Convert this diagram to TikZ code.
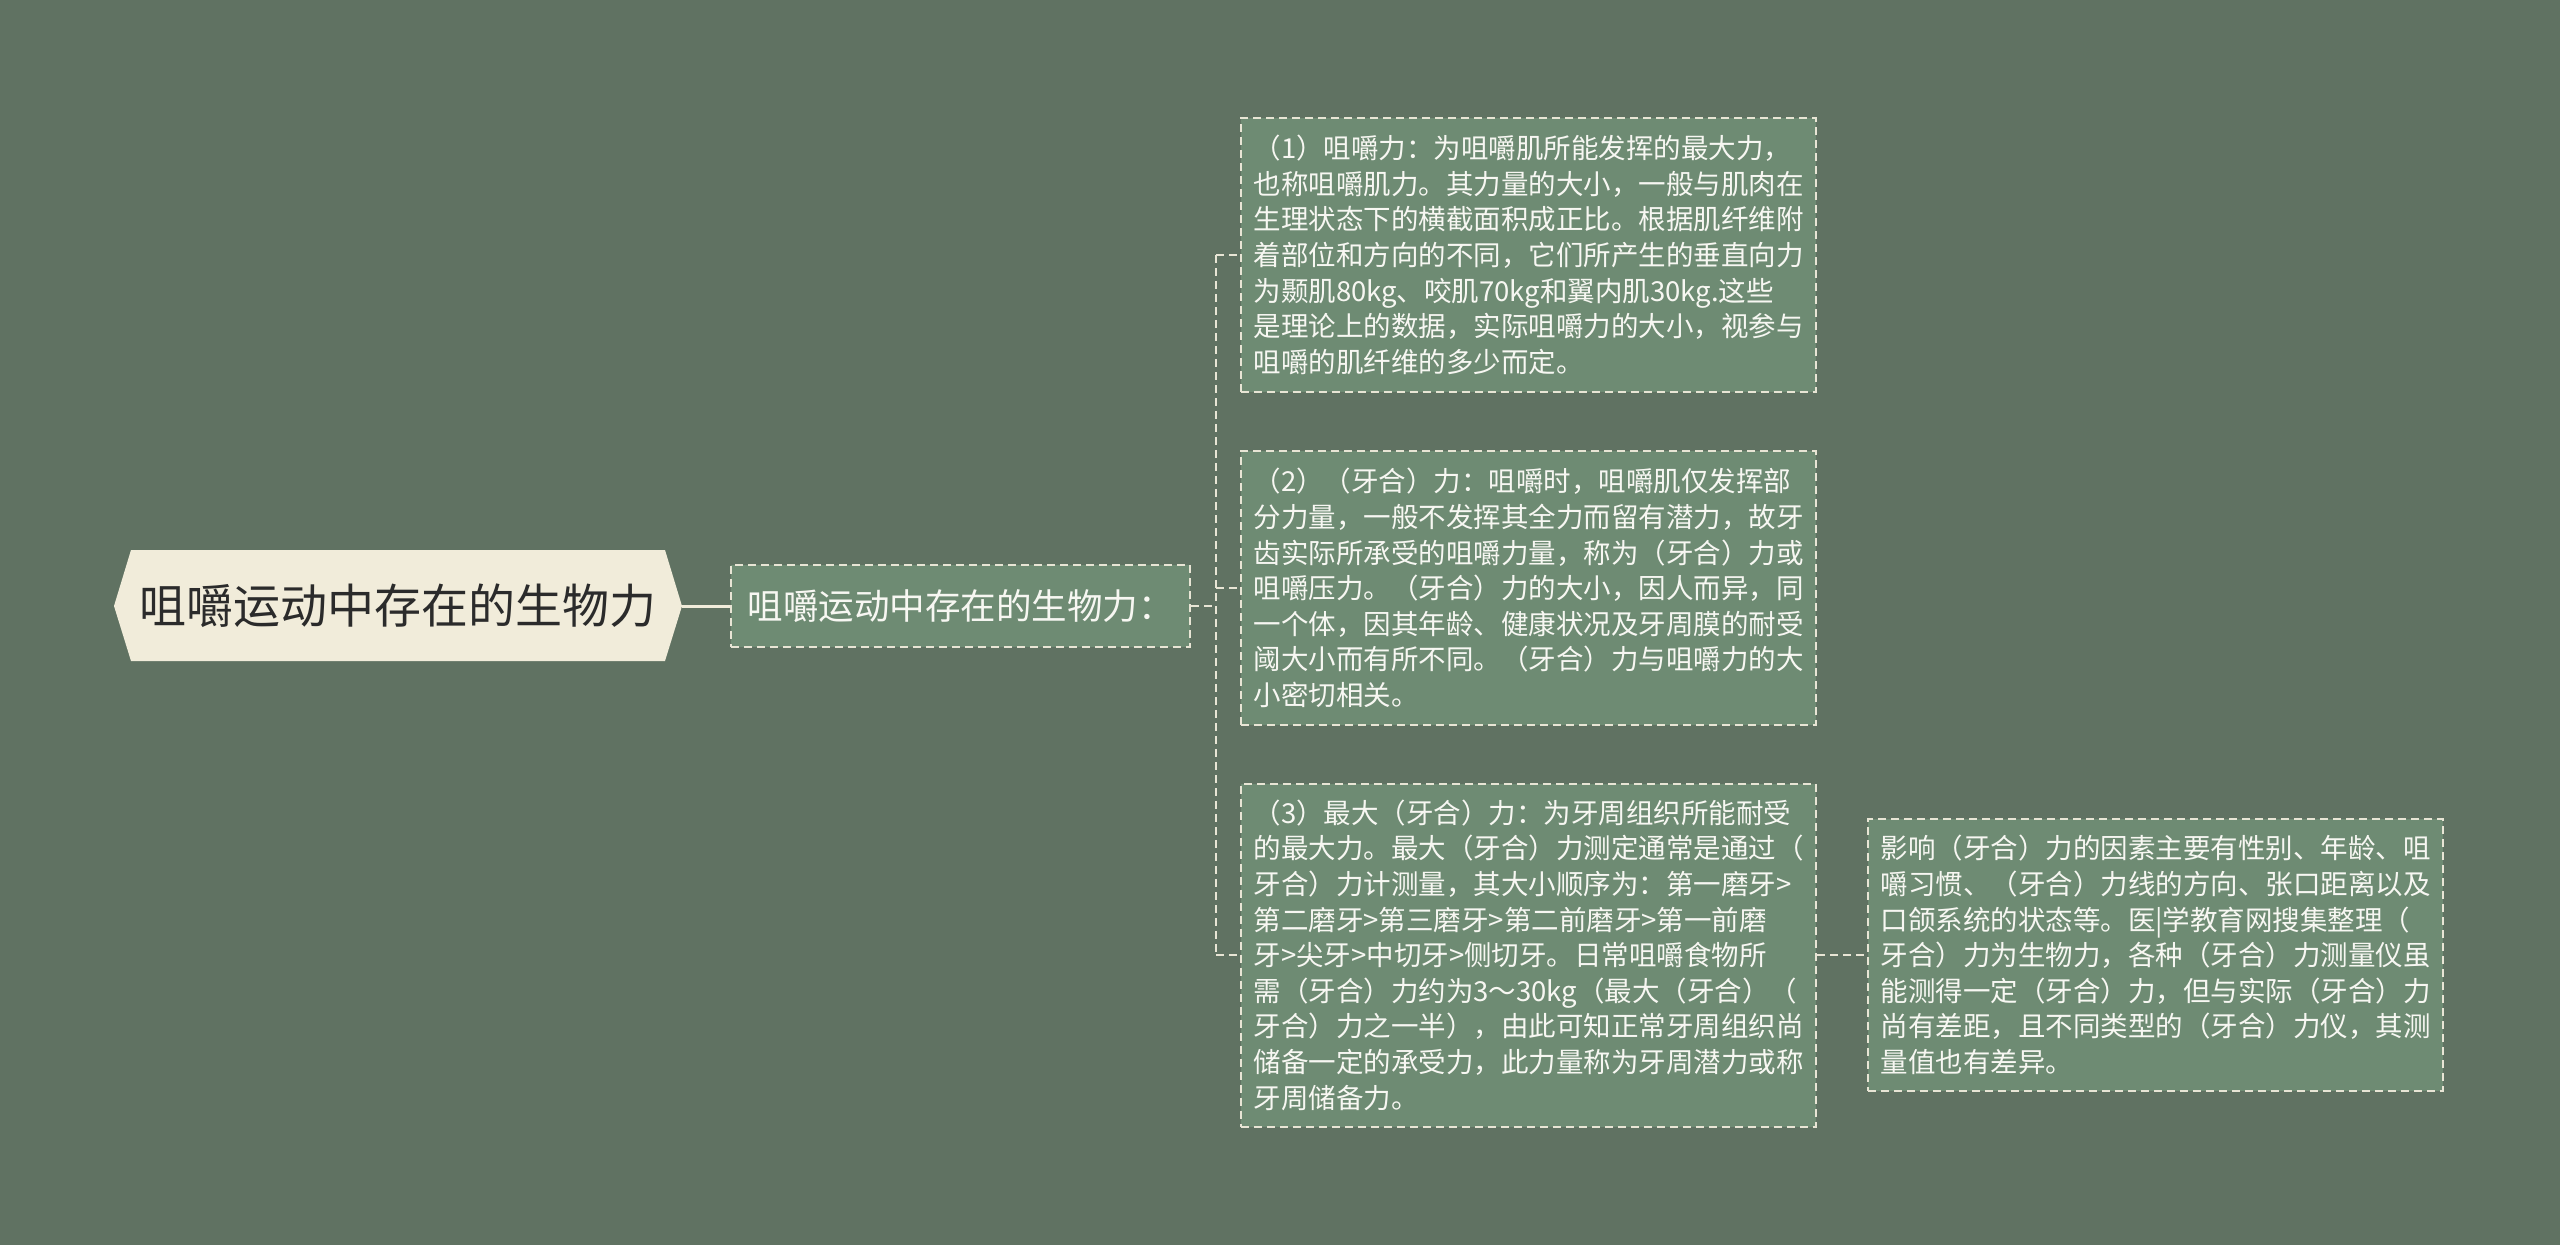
\documentclass[tikz,border=0pt]{standalone}
\usepackage{fontspec}
\setmainfont{Noto Sans CJK SC}
\definecolor{bg}{HTML}{607262}
\definecolor{boxfill}{HTML}{6E8B73}
\definecolor{rootfill}{HTML}{F1ECDA}
\definecolor{edge}{HTML}{E8E5D5}
\definecolor{boxtext}{HTML}{F7F7F2}
\definecolor{roottext}{HTML}{2B2B2B}
\tikzset{
  dbox/.style={draw=edge, line width=2pt, dash pattern=on 8pt off 5pt, fill=boxfill,
    text=boxtext, inner sep=0pt, align=left, minimum width=575pt,
    font=\fontsize{27.5}{35.6}\selectfont},
  link/.style={draw=edge, line width=2pt, dash pattern=on 8pt off 5pt},
  rootlink/.style={draw=rootfill, line width=3pt},
}
\begin{document}
\begin{tikzpicture}[x=1pt,y=-1pt]
\useasboundingbox (0,0) rectangle (2560,1245);
\fill[bg] (0,0) rectangle (2560,1245);
% root
\fill[rootfill] (114,606) -- (131,550) -- (665,550) -- (682,606) -- (665,661) -- (131,661) -- cycle;
\node[font=\fontsize{47}{56}\selectfont, text=roottext, minimum width=568pt, minimum height=111pt, inner sep=0pt] (root) at (398,606) {咀嚼运动中存在的生物力};
% second level
\node[dbox, minimum width=459pt, minimum height=82pt, align=center, font=\fontsize{35.5}{42}\selectfont] (n2) at (960.5,606) {咀嚼运动中存在的生物力：};
% leaves
\node[dbox, minimum height=274pt] (b1) at (1528.5,255) {（1）咀嚼力：为咀嚼肌所能发挥的最大力，\\也称咀嚼肌力。其力量的大小，一般与肌肉在\\生理状态下的横截面积成正比。根据肌纤维附\\着部位和方向的不同，它们所产生的垂直向力\\为颞肌80kg、咬肌70kg和翼内肌30kg.这些\\是理论上的数据，实际咀嚼力的大小，视参与\\咀嚼的肌纤维的多少而定。};
\node[dbox, minimum height=274pt] (b2) at (1528.5,588) {（2）（牙合）力：咀嚼时，咀嚼肌仅发挥部\\分力量，一般不发挥其全力而留有潜力，故牙\\齿实际所承受的咀嚼力量，称为（牙合）力或\\咀嚼压力。（牙合）力的大小，因人而异，同\\一个体，因其年龄、健康状况及牙周膜的耐受\\阈大小而有所不同。（牙合）力与咀嚼力的大\\小密切相关。};
\node[dbox, minimum height=343pt] (b3) at (1528.5,955) {（3）最大（牙合）力：为牙周组织所能耐受\\的最大力。最大（牙合）力测定通常是通过（\\牙合）力计测量，其大小顺序为：第一磨牙>\\第二磨牙>第三磨牙>第二前磨牙>第一前磨\\牙>尖牙>中切牙>侧切牙。日常咀嚼食物所\\需（牙合）力约为3～30kg（最大（牙合）（\\牙合）力之一半），由此可知正常牙周组织尚\\储备一定的承受力，此力量称为牙周潜力或称\\牙周储备力。};
\node[dbox, minimum height=272pt] (b4) at (2155.5,955) {影响（牙合）力的因素主要有性别、年龄、咀\\嚼习惯、（牙合）力线的方向、张口距离以及\\口颌系统的状态等。医|学教育网搜集整理（\\牙合）力为生物力，各种（牙合）力测量仪虽\\能测得一定（牙合）力，但与实际（牙合）力\\尚有差距，且不同类型的（牙合）力仪，其测\\量值也有差异。};
% connectors
\draw[rootlink] (root.east) -- (n2.west);
\coordinate (j) at (1216,606);
\draw[link] (n2.east) -- (j);
\draw[link] (j |- b1.west) -- (j |- b3.west);
\draw[link] (j |- b1.west) -- (b1.west);
\draw[link] (j |- b2.west) -- (b2.west);
\draw[link] (j |- b3.west) -- (b3.west);
\draw[link] (b3.east |- b4.west) -- (b4.west);
\end{tikzpicture}
\end{document}
